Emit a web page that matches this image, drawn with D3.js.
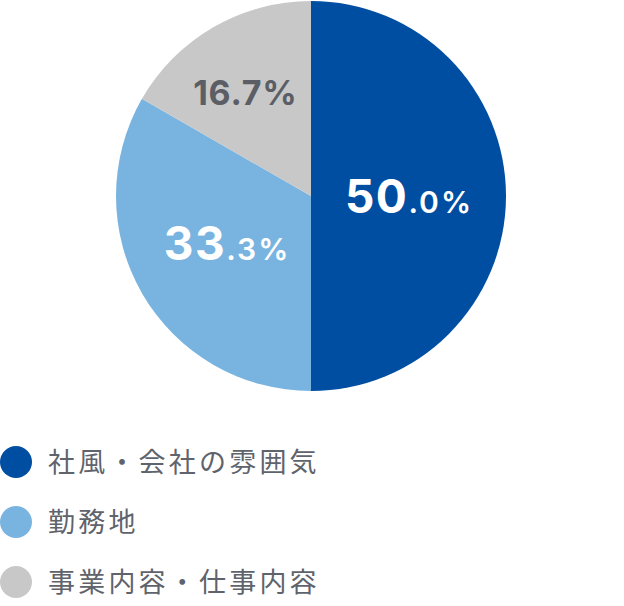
<!DOCTYPE html>
<html>
<head>
<meta charset="utf-8">
<script src="https://cdn.jsdelivr.net/npm/d3@7"></script>
<style>
  html, body { margin: 0; padding: 0; background: #fff; }
  svg { display: block; }
</style>
</head>
<body>
<svg id="chart" width="624" height="606"></svg>
<script>
// データ
const categories = ['社風・会社の雰囲気', '勤務地', '事業内容・仕事内容'];
const values = [50.0, 33.3, 16.7];
const colors = ['#004ea2', '#79b4e1', '#c8c8c8'];
const labelColors = ['#ffffff', '#ffffff', '#5c5e66'];

const W = 624, H = 606;
const CX = 311, CY = 196, R = 195;
const NUM_FONT = 'Inter, Roboto, sans-serif';
const JP_FONT = '"Noto Sans CJK JP", "Noto Sans", sans-serif';

const svg = d3.select('#chart');

const pie = d3.pie().sort(null).value(d => d);
const arcs = pie(values);
const arc = d3.arc().innerRadius(0).outerRadius(R);
const labelArc = d3.arc().innerRadius(0).outerRadius(194); // centroid ~ r=97
const labelNudge = [[1, 0], [0, -1], [-17, -20]];

const g = svg.append('g').attr('transform', `translate(${CX},${CY})`);

g.selectAll('path.slice')
  .data(arcs)
  .join('path')
  .attr('class', 'slice')
  .attr('d', arc)
  .attr('fill', (d, i) => colors[i]);

// ラベル：大きい整数部 + 小さい小数部（16.7% は同サイズ）
g.selectAll('text.lbl')
  .data(arcs)
  .join('text')
  .attr('class', 'lbl')
  .attr('text-anchor', 'middle')
  .attr('font-family', NUM_FONT)
  .attr('font-weight', 700)
  .attr('fill', (d, i) => labelColors[i])
  .each(function (d, i) {
    const c = labelArc.centroid(d);
    const big = d.data >= 20;
    const capH = big ? 33 : 25;
    const x = c[0] + labelNudge[i][0];
    const y = c[1] + labelNudge[i][1] + capH / 2;
    const t = d3.select(this).attr('x', x).attr('y', y);
    const s = d.data.toFixed(1);
    const [intPart, decPart] = s.split('.');
    if (big) {
      t.append('tspan').attr('font-size', 46).attr('letter-spacing', 1.5).text(intPart);
      t.append('tspan').attr('font-size', 30).attr('font-weight', 600)
        .attr('letter-spacing', 2).text('.' + decPart + '%');
    } else {
      t.append('tspan').attr('font-size', 34).attr('letter-spacing', 0.8).text(s + '%');
    }
  });

// 凡例
const legendY = d3.scalePoint().domain(categories).range([462, 582]);
const item = svg.append('g').selectAll('g.item')
  .data(categories)
  .join('g')
  .attr('class', 'item')
  .attr('transform', d => `translate(0,${legendY(d)})`);

item.append('circle')
  .attr('cx', 16).attr('cy', 0).attr('r', 16)
  .attr('fill', (d, i) => colors[i]);

item.append('text')
  .attr('x', 48).attr('y', 0)
  .attr('dy', '0.36em')
  .attr('font-family', JP_FONT)
  .attr('font-size', 27)
  .attr('letter-spacing', 3.2)
  .attr('fill', '#5f636b')
  .text(d => d);
</script>
</body>
</html>
